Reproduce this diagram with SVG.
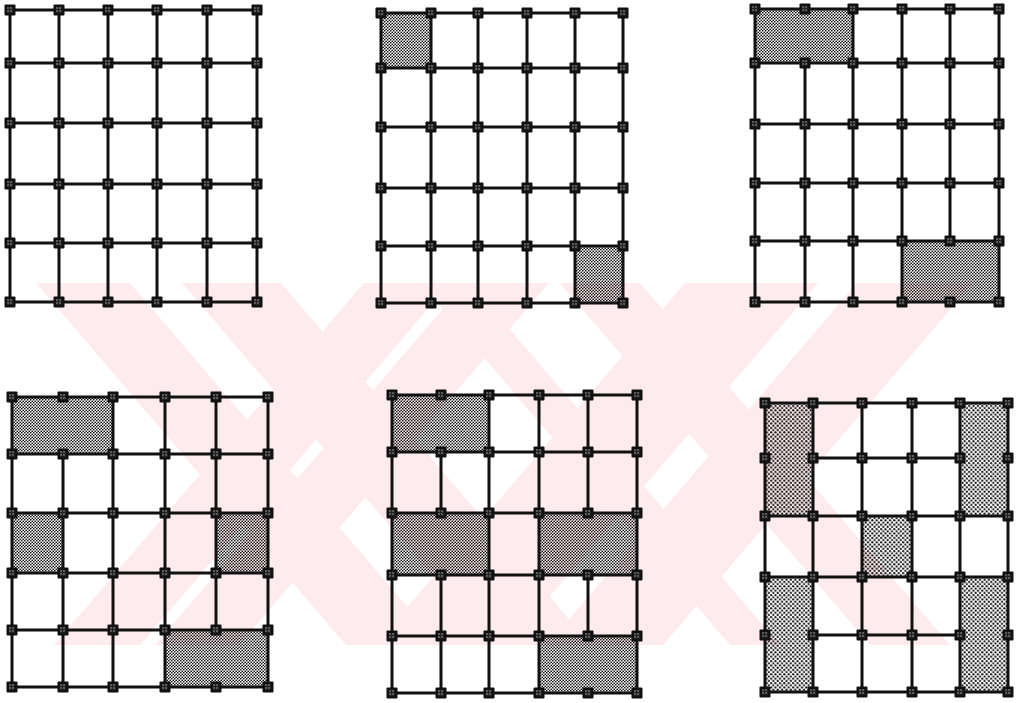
<svg xmlns="http://www.w3.org/2000/svg" xmlns:xlink="http://www.w3.org/1999/xlink" width="1019" height="703" viewBox="0 0 1019 703">
<style>
.ln{stroke:#111;stroke-width:3;stroke-linecap:square;fill:none}
.sh{fill:url(#dots)}
.sh6{fill:url(#dots6)}
.wm{fill:#fdebee}
</style>
<defs>
<pattern id="dots" width="3" height="3" patternUnits="userSpaceOnUse">
<circle cx="0.75" cy="0.75" r="0.85" fill="#111"/>
<circle cx="2.25" cy="2.25" r="0.85" fill="#111"/>
</pattern>
<pattern id="dots6" width="4.4" height="4.4" patternUnits="userSpaceOnUse">
<circle cx="1.1" cy="1.1" r="1.1" fill="#111"/>
<circle cx="3.3" cy="3.3" r="1.1" fill="#111"/>
</pattern>
<pattern id="spk" width="3" height="3" patternUnits="userSpaceOnUse">
<rect width="3" height="3" fill="#222"/>
<circle cx="1" cy="1" r="0.7" fill="#bbb"/>
</pattern>
<symbol id="nd" overflow="visible">
<rect x="-5.5" y="-5.5" width="11" height="11" rx="1" fill="#111"/>
<rect x="-3" y="-3" width="6" height="6" fill="url(#spk)"/>
</symbol>
</defs>
<rect width="1019" height="703" fill="#fff"/>
<g id="watermark">
<polygon class="wm" points="36,283 130,283 440,645 346,645"/>
<polygon class="wm" points="182,283 281,283 591,645 492,645"/>
<polygon class="wm" points="364,283 450,283 140,645 54,645"/>
<polygon class="wm" points="465,283 549,283 239,645 155,645"/>
<polygon class="wm" points="685,283 818,283 508,645 375,645"/>
<polygon class="wm" points="857,283 973,283 663,645 547,645"/>
<polygon class="wm" points="560,283 640,283 950,645 870,645"/>
<polygon class="wm" points="420,283 470,283 780,645 730,645"/>
</g>
<g id="panel1">
<g class="ln">
<path d="M10,10H257M10,63H257M10,123H257M10,184H257M10,243H257M10,302H257"/>
<path d="M10,10V302M59,10V302M108,10V302M157,10V302M207,10V302M257,10V302"/>
</g>
<g id="p1-nodes">
<use href="#nd" x="10" y="10"/><use href="#nd" x="59" y="10"/><use href="#nd" x="108" y="10"/><use href="#nd" x="157" y="10"/><use href="#nd" x="207" y="10"/><use href="#nd" x="257" y="10"/>
<use href="#nd" x="10" y="63"/><use href="#nd" x="59" y="63"/><use href="#nd" x="108" y="63"/><use href="#nd" x="157" y="63"/><use href="#nd" x="207" y="63"/><use href="#nd" x="257" y="63"/>
<use href="#nd" x="10" y="123"/><use href="#nd" x="59" y="123"/><use href="#nd" x="108" y="123"/><use href="#nd" x="157" y="123"/><use href="#nd" x="207" y="123"/><use href="#nd" x="257" y="123"/>
<use href="#nd" x="10" y="184"/><use href="#nd" x="59" y="184"/><use href="#nd" x="108" y="184"/><use href="#nd" x="157" y="184"/><use href="#nd" x="207" y="184"/><use href="#nd" x="257" y="184"/>
<use href="#nd" x="10" y="243"/><use href="#nd" x="59" y="243"/><use href="#nd" x="108" y="243"/><use href="#nd" x="157" y="243"/><use href="#nd" x="207" y="243"/><use href="#nd" x="257" y="243"/>
<use href="#nd" x="10" y="302"/><use href="#nd" x="59" y="302"/><use href="#nd" x="108" y="302"/><use href="#nd" x="157" y="302"/><use href="#nd" x="207" y="302"/><use href="#nd" x="257" y="302"/>
</g>
</g>
<g id="panel2">
<rect class="sh" x="381" y="13" width="50" height="55"/>
<rect class="sh" x="575" y="246" width="48" height="57"/>
<g class="ln">
<path d="M381,13H623M381,68H623M381,127H623M381,188H623M381,246H623M381,303H623"/>
<path d="M381,13V303M431,13V303M478,13V303M527,13V303M575,13V303M623,13V303"/>
</g>
<g id="p2-nodes">
<use href="#nd" x="381" y="13"/><use href="#nd" x="431" y="13"/><use href="#nd" x="478" y="13"/><use href="#nd" x="527" y="13"/><use href="#nd" x="575" y="13"/><use href="#nd" x="623" y="13"/>
<use href="#nd" x="381" y="68"/><use href="#nd" x="431" y="68"/><use href="#nd" x="478" y="68"/><use href="#nd" x="527" y="68"/><use href="#nd" x="575" y="68"/><use href="#nd" x="623" y="68"/>
<use href="#nd" x="381" y="127"/><use href="#nd" x="431" y="127"/><use href="#nd" x="478" y="127"/><use href="#nd" x="527" y="127"/><use href="#nd" x="575" y="127"/><use href="#nd" x="623" y="127"/>
<use href="#nd" x="381" y="188"/><use href="#nd" x="431" y="188"/><use href="#nd" x="478" y="188"/><use href="#nd" x="527" y="188"/><use href="#nd" x="575" y="188"/><use href="#nd" x="623" y="188"/>
<use href="#nd" x="381" y="246"/><use href="#nd" x="431" y="246"/><use href="#nd" x="478" y="246"/><use href="#nd" x="527" y="246"/><use href="#nd" x="575" y="246"/><use href="#nd" x="623" y="246"/>
<use href="#nd" x="381" y="303"/><use href="#nd" x="431" y="303"/><use href="#nd" x="478" y="303"/><use href="#nd" x="527" y="303"/><use href="#nd" x="575" y="303"/><use href="#nd" x="623" y="303"/>
</g>
</g>
<g id="panel3">
<rect class="sh" x="755" y="9" width="98" height="54"/>
<rect class="sh" x="902" y="241" width="97" height="61"/>
<g class="ln">
<path d="M755,9H999M755,63H999M755,124H999M755,183H999M755,241H999M755,302H999"/>
<path d="M755,9V302M805,63V302M853,9V302M902,9V302M950,9V241M999,9V302"/>
</g>
<g id="p3-nodes">
<use href="#nd" x="755" y="9"/><use href="#nd" x="805" y="9"/><use href="#nd" x="853" y="9"/><use href="#nd" x="902" y="9"/><use href="#nd" x="950" y="9"/><use href="#nd" x="999" y="9"/>
<use href="#nd" x="755" y="63"/><use href="#nd" x="805" y="63"/><use href="#nd" x="853" y="63"/><use href="#nd" x="902" y="63"/><use href="#nd" x="950" y="63"/><use href="#nd" x="999" y="63"/>
<use href="#nd" x="755" y="124"/><use href="#nd" x="805" y="124"/><use href="#nd" x="853" y="124"/><use href="#nd" x="902" y="124"/><use href="#nd" x="950" y="124"/><use href="#nd" x="999" y="124"/>
<use href="#nd" x="755" y="183"/><use href="#nd" x="805" y="183"/><use href="#nd" x="853" y="183"/><use href="#nd" x="902" y="183"/><use href="#nd" x="950" y="183"/><use href="#nd" x="999" y="183"/>
<use href="#nd" x="755" y="241"/><use href="#nd" x="805" y="241"/><use href="#nd" x="853" y="241"/><use href="#nd" x="902" y="241"/><use href="#nd" x="950" y="241"/><use href="#nd" x="999" y="241"/>
<use href="#nd" x="755" y="302"/><use href="#nd" x="805" y="302"/><use href="#nd" x="853" y="302"/><use href="#nd" x="902" y="302"/><use href="#nd" x="950" y="302"/><use href="#nd" x="999" y="302"/>
</g>
</g>
<g id="panel4">
<rect class="sh" x="12" y="397" width="101" height="57"/>
<rect class="sh" x="12" y="513" width="51" height="60"/>
<rect class="sh" x="216" y="513" width="52" height="60"/>
<rect class="sh" x="165" y="630" width="103" height="57"/>
<g class="ln">
<path d="M12,397H268M12,454H268M12,513H268M12,573H268M12,630H268M12,687H268"/>
<path d="M12,397V687M63,454V687M113,397V687M165,397V687M216,397V630M268,397V687"/>
</g>
<g id="p4-nodes">
<use href="#nd" x="12" y="397"/><use href="#nd" x="63" y="397"/><use href="#nd" x="113" y="397"/><use href="#nd" x="165" y="397"/><use href="#nd" x="216" y="397"/><use href="#nd" x="268" y="397"/>
<use href="#nd" x="12" y="454"/><use href="#nd" x="63" y="454"/><use href="#nd" x="113" y="454"/><use href="#nd" x="165" y="454"/><use href="#nd" x="216" y="454"/><use href="#nd" x="268" y="454"/>
<use href="#nd" x="12" y="513"/><use href="#nd" x="63" y="513"/><use href="#nd" x="113" y="513"/><use href="#nd" x="165" y="513"/><use href="#nd" x="216" y="513"/><use href="#nd" x="268" y="513"/>
<use href="#nd" x="12" y="573"/><use href="#nd" x="63" y="573"/><use href="#nd" x="113" y="573"/><use href="#nd" x="165" y="573"/><use href="#nd" x="216" y="573"/><use href="#nd" x="268" y="573"/>
<use href="#nd" x="12" y="630"/><use href="#nd" x="63" y="630"/><use href="#nd" x="113" y="630"/><use href="#nd" x="165" y="630"/><use href="#nd" x="216" y="630"/><use href="#nd" x="268" y="630"/>
<use href="#nd" x="12" y="687"/><use href="#nd" x="63" y="687"/><use href="#nd" x="113" y="687"/><use href="#nd" x="165" y="687"/><use href="#nd" x="216" y="687"/><use href="#nd" x="268" y="687"/>
</g>
</g>
<g id="panel5">
<rect class="sh" x="392" y="395" width="97" height="57"/>
<rect class="sh" x="392" y="513" width="97" height="62"/>
<rect class="sh" x="539" y="513" width="98" height="62"/>
<rect class="sh" x="539" y="636" width="98" height="57"/>
<g class="ln">
<path d="M392,395H637M392,452H637M392,513H637M392,575H637M392,636H637M392,693H637"/>
<path d="M392,395V693M441,452V513M441,575V693M489,395V693M539,395V693M588,395V513M588,575V636M637,395V693"/>
</g>
<g id="p5-nodes">
<use href="#nd" x="392" y="395"/><use href="#nd" x="441" y="395"/><use href="#nd" x="489" y="395"/><use href="#nd" x="539" y="395"/><use href="#nd" x="588" y="395"/><use href="#nd" x="637" y="395"/>
<use href="#nd" x="392" y="452"/><use href="#nd" x="441" y="452"/><use href="#nd" x="489" y="452"/><use href="#nd" x="539" y="452"/><use href="#nd" x="588" y="452"/><use href="#nd" x="637" y="452"/>
<use href="#nd" x="392" y="513"/><use href="#nd" x="441" y="513"/><use href="#nd" x="489" y="513"/><use href="#nd" x="539" y="513"/><use href="#nd" x="588" y="513"/><use href="#nd" x="637" y="513"/>
<use href="#nd" x="392" y="575"/><use href="#nd" x="441" y="575"/><use href="#nd" x="489" y="575"/><use href="#nd" x="539" y="575"/><use href="#nd" x="588" y="575"/><use href="#nd" x="637" y="575"/>
<use href="#nd" x="392" y="636"/><use href="#nd" x="441" y="636"/><use href="#nd" x="489" y="636"/><use href="#nd" x="539" y="636"/><use href="#nd" x="588" y="636"/><use href="#nd" x="637" y="636"/>
<use href="#nd" x="392" y="693"/><use href="#nd" x="441" y="693"/><use href="#nd" x="489" y="693"/><use href="#nd" x="539" y="693"/><use href="#nd" x="588" y="693"/><use href="#nd" x="637" y="693"/>
</g>
</g>
<g id="panel6">
<rect class="sh6" x="765" y="403" width="48" height="113"/>
<rect class="sh6" x="960" y="403" width="48" height="113"/>
<rect class="sh6" x="862" y="516" width="50" height="61"/>
<rect class="sh6" x="765" y="577" width="48" height="115"/>
<rect class="sh6" x="960" y="577" width="48" height="115"/>
<g class="ln">
<path d="M765,403H1008M813,458H960M765,516H1008M765,577H1008M813,635H960M765,692H1008"/>
<path d="M765,403V692M813,403V692M862,403V692M912,403V692M960,403V692M1008,403V692"/>
</g>
<g id="p6-nodes">
<use href="#nd" x="765" y="403"/><use href="#nd" x="813" y="403"/><use href="#nd" x="862" y="403"/><use href="#nd" x="912" y="403"/><use href="#nd" x="960" y="403"/><use href="#nd" x="1008" y="403"/>
<use href="#nd" x="765" y="458"/><use href="#nd" x="813" y="458"/><use href="#nd" x="862" y="458"/><use href="#nd" x="912" y="458"/><use href="#nd" x="960" y="458"/><use href="#nd" x="1008" y="458"/>
<use href="#nd" x="765" y="516"/><use href="#nd" x="813" y="516"/><use href="#nd" x="862" y="516"/><use href="#nd" x="912" y="516"/><use href="#nd" x="960" y="516"/><use href="#nd" x="1008" y="516"/>
<use href="#nd" x="765" y="577"/><use href="#nd" x="813" y="577"/><use href="#nd" x="862" y="577"/><use href="#nd" x="912" y="577"/><use href="#nd" x="960" y="577"/><use href="#nd" x="1008" y="577"/>
<use href="#nd" x="765" y="635"/><use href="#nd" x="813" y="635"/><use href="#nd" x="862" y="635"/><use href="#nd" x="912" y="635"/><use href="#nd" x="960" y="635"/><use href="#nd" x="1008" y="635"/>
<use href="#nd" x="765" y="692"/><use href="#nd" x="813" y="692"/><use href="#nd" x="862" y="692"/><use href="#nd" x="912" y="692"/><use href="#nd" x="960" y="692"/><use href="#nd" x="1008" y="692"/>
</g>
</g>
</svg>
